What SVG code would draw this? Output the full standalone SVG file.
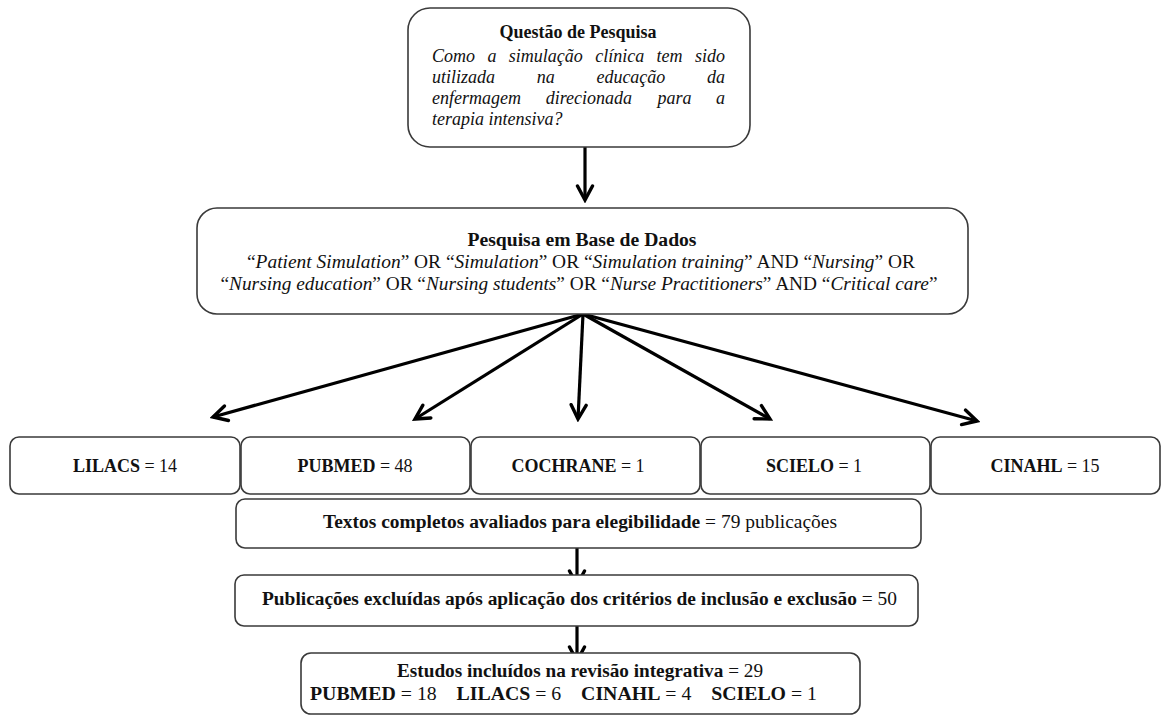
<svg xmlns="http://www.w3.org/2000/svg" width="1161" height="717" viewBox="0 0 1161 717">
<defs>
<style>
.box{fill:#fff;stroke:#3a3a3a;stroke-width:1.6}
.t{font-family:"Liberation Serif","Times New Roman",serif;fill:#111;font-size:18px}
.b{font-weight:bold}
.i{font-style:italic}
.c{text-anchor:middle}
.e{text-anchor:end}
.ln{stroke:#000;stroke-width:3.2;fill:none;marker-end:url(#arr)}
</style>
<marker id="arr" viewBox="0 0 20 20" refX="17" refY="10" markerWidth="20" markerHeight="20" markerUnits="userSpaceOnUse" orient="auto">
<path d="M3,2.5 L17,10 L3,17.5" fill="none" stroke="#000" stroke-width="3.4" stroke-linejoin="miter" stroke-linecap="round"/>
</marker>
</defs>
<rect width="1161" height="717" fill="#fff"/>

<g id="connectors">
<line class="ln" x1="585" y1="147" x2="585" y2="200"/>
<line class="ln" x1="583" y1="314" x2="213" y2="417"/>
<line class="ln" x1="583" y1="314" x2="415" y2="419"/>
<line class="ln" x1="583" y1="314" x2="578" y2="419"/>
<line class="ln" x1="583" y1="314" x2="770" y2="419"/>
<line class="ln" x1="583" y1="314" x2="977" y2="421"/>
<line class="ln" x1="577" y1="548" x2="577" y2="585"/>
<line class="ln" x1="577" y1="626" x2="577" y2="661"/>
</g>

<g id="questao">
<rect class="box" x="408" y="8" width="342" height="139" rx="22"/>
<text class="t b c" x="578" y="38" font-size="19">Questão de Pesquisa</text>
<g class="t i">
<text x="432" y="62">Como</text><text x="487.4" y="62">a</text><text x="508.8" y="62">simulação</text><text x="595.2" y="62">clínica</text><text x="656.6" y="62">tem</text><text class="e" x="725" y="62">sido</text>
<text x="432" y="83">utilizada</text><text x="536.7" y="83">na</text><text x="596.4" y="83">educação</text><text class="e" x="725" y="83">da</text>
<text x="432" y="104">enfermagem</text><text x="545.7" y="104">direcionada</text><text x="657.4" y="104">para</text><text class="e" x="725" y="104">a</text>
<text x="432" y="125">terapia intensiva?</text>
</g>
</g>

<g id="pesquisa">
<rect class="box" x="197" y="208" width="771" height="106" rx="20"/>
<text class="t b c" x="582" y="246" textLength="229" lengthAdjust="spacingAndGlyphs" font-size="19">Pesquisa em Base de Dados</text>
<text class="t c" x="581" y="268" textLength="668" lengthAdjust="spacingAndGlyphs" font-size="19">“<tspan class="i">Patient Simulation</tspan>” OR “<tspan class="i">Simulation</tspan>” OR “<tspan class="i">Simulation training</tspan>” AND “<tspan class="i">Nursing</tspan>” OR</text>
<text class="t c" x="579" y="290" textLength="717" lengthAdjust="spacingAndGlyphs" font-size="19">“<tspan class="i">Nursing education</tspan>” OR “<tspan class="i">Nursing students</tspan>” OR “<tspan class="i">Nurse Practitioners</tspan>” AND “<tspan class="i">Critical care</tspan>”</text>
</g>

<g id="lilacs">
<rect class="box" x="10" y="437" width="230" height="57" rx="9"/>
<text class="t c" x="125" y="472"><tspan class="b">LILACS</tspan> = 14</text>
</g>
<g id="pubmed">
<rect class="box" x="241" y="437" width="229" height="57" rx="9"/>
<text class="t c" x="355" y="472"><tspan class="b">PUBMED</tspan> = 48</text>
</g>
<g id="cochrane">
<rect class="box" x="471" y="437" width="229" height="57" rx="9"/>
<text class="t c" x="578" y="472"><tspan class="b">COCHRANE</tspan> = 1</text>
</g>
<g id="scielo">
<rect class="box" x="701" y="437" width="229" height="57" rx="9"/>
<text class="t c" x="814" y="472"><tspan class="b">SCIELO</tspan> = 1</text>
</g>
<g id="cinahl">
<rect class="box" x="931" y="437" width="229" height="57" rx="9"/>
<text class="t c" x="1045" y="472"><tspan class="b">CINAHL</tspan> = 15</text>
</g>

<g id="textos">
<rect class="box" x="236" y="499" width="685" height="49" rx="9"/>
<text class="t c" x="580" y="528" textLength="514" lengthAdjust="spacingAndGlyphs"><tspan class="b">Textos completos avaliados para elegibilidade</tspan> = 79 publicações</text>
</g>

<g id="excluidas">
<rect class="box" x="235" y="575" width="683" height="51" rx="9"/>
<text class="t b c" x="579.5" y="605" textLength="635" lengthAdjust="spacingAndGlyphs">Publicações excluídas após aplicação dos critérios de inclusão e exclusão <tspan font-weight="normal">= 50</tspan></text>
</g>

<g id="estudos">
<rect class="box" x="301" y="653" width="559" height="61" rx="10"/>
<text class="t b c" x="580" y="677" textLength="366" lengthAdjust="spacingAndGlyphs">Estudos incluídos na revisão integrativa <tspan font-weight="normal">= 29</tspan></text>
<text class="t c" x="563.5" y="700" textLength="507" lengthAdjust="spacingAndGlyphs" xml:space="preserve"><tspan class="b">PUBMED</tspan> = 18    <tspan class="b">LILACS</tspan> = 6    <tspan class="b">CINAHL</tspan> = 4    <tspan class="b">SCIELO</tspan> = 1</text>
</g>
</svg>
